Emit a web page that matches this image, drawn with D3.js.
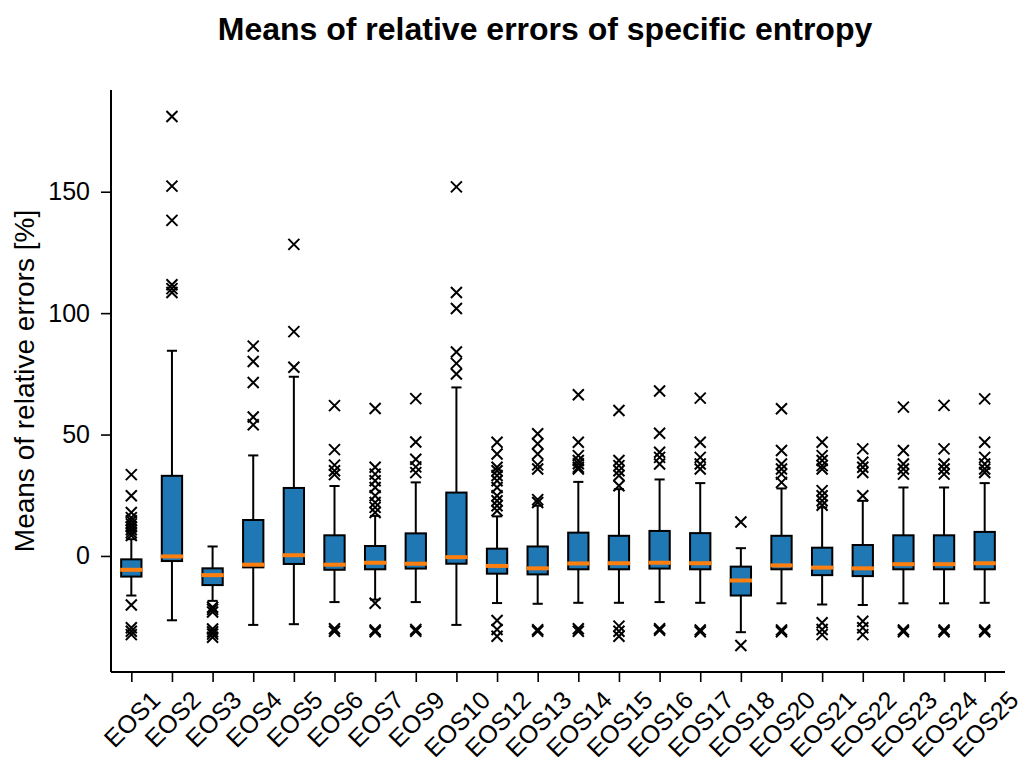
<!DOCTYPE html>
<html>
<head>
<meta charset="utf-8">
<script src="https://cdn.jsdelivr.net/npm/d3@7"></script>
<style>
  html, body { margin: 0; padding: 0; background: #fff; }
  svg { display: block; font-family: "Liberation Sans", Arial, sans-serif; }
</style>
</head>
<body>
<svg id="chart" width="1020" height="767"></svg>
<script>
// Box statistics of the mean relative error (%) per equation of state
const categories = ["EOS1","EOS2","EOS3","EOS4","EOS5","EOS6","EOS7","EOS9","EOS10","EOS12","EOS13",
                    "EOS14","EOS15","EOS16","EOS17","EOS18","EOS20","EOS21","EOS22","EOS23","EOS24","EOS25"];
const whiskerLow  = [-16.3,-26.5,-18.5,-28.4,-28.1,-19.0,-18.0,-19.0,-28.4,-19.4,-19.7,-19.3,-19.3,-19.0,-19.3,-31.4,-19.5,-20.0,-20.2,-19.5,-19.5,-19.3];
const q1          = [-8.5,-2.1,-12.0,-4.7,-3.3,-5.7,-5.5,-5.2,-3.2,-7.3,-7.6,-5.5,-5.5,-5.2,-5.5,-16.3,-5.5,-7.9,-8.3,-5.5,-5.5,-5.5];
const median      = [-5.7,-0.2,-7.9,-3.6,0.3,-3.6,-2.8,-3.2,-0.5,-4.1,-5.1,-3.1,-3.0,-2.8,-3.0,-10.1,-3.9,-4.8,-5.1,-3.4,-3.4,-3.0];
const q3          = [-1.4,33.0,-5.1,14.8,28.0,8.5,4.1,9.3,26.1,3.0,3.9,9.6,8.3,10.3,9.4,-4.4,8.3,3.4,4.5,8.5,8.5,9.9];
const whiskerHigh = [6.9,84.5,3.9,41.4,73.8,28.8,16.5,30.3,69.4,16.3,20.7,30.5,27.5,31.5,30.0,3.2,27.8,20.0,22.7,28.2,28.2,30.0];
const fliers = [
  [33.5,24.8,17.9,15.8,14.5,13.2,12.0,10.8,9.6,8.4,-20.2,-29.6,-31.0,-32.4],
  [181.0,152.3,138.2,111.7,110.1,108.5],
  [-21.1,-22.0,-23.1,-30.1,-31.2,-32.2,-33.5],
  [86.4,80.1,71.4,57.2,54.0],
  [128.3,92.4,77.7],
  [61.9,43.8,37.4,35.1,33.5,-30.0,-31.0],
  [60.7,36.5,33.7,31.0,28.2,24.8,22.0,20.0,17.9,-19.5,-30.5,-31.2],
  [64.8,46.9,39.8,36.7,34.3,-30.3,-31.0],
  [152.0,108.5,101.9,84.0,79.3,74.9],
  [46.8,42.0,36.5,35.1,33.1,31.0,28.2,24.8,22.7,20.7,18.6,-26.6,-30.3,-33.1],
  [50.3,46.2,42.0,37.5,35.8,23.2,22.0,-30.4,-31.0],
  [66.4,46.8,41.3,39.3,38.0,36.5,35.8,-30.0,-31.0],
  [59.9,39.3,37.2,35.1,33.1,28.9,-28.9,-31.0,-33.1],
  [67.9,50.5,42.7,40.6,37.9,-30.0,-30.6],
  [65.0,46.8,40.6,37.9,35.8,-30.5,-31.2],
  [14.0,-36.9],
  [60.6,43.4,37.9,35.8,33.7,30.3,-30.5,-31.2],
  [46.8,41.3,39.3,37.2,35.8,26.9,24.8,22.7,20.9,-27.5,-30.3,-32.4],
  [44.1,38.6,36.5,34.4,24.8,-26.9,-29.6,-32.4],
  [61.3,43.4,37.9,35.8,33.7,-30.5,-31.2],
  [62.0,44.1,37.9,35.8,33.7,-30.5,-31.2],
  [64.7,46.8,40.6,37.9,35.8,34.4,-30.5,-31.2]
];
const yTicks = [0, 50, 100, 150];

const titleText = "Means of relative errors of specific entropy";
const yLabel = "Means of relative errors [%]";

const rows = categories.map((c, i) => ({
  name: c, lo: whiskerLow[i], q1: q1[i], med: median[i], q3: q3[i], hi: whiskerHigh[i], out: fliers[i]
}));

const svg = d3.select("#chart");
const plot = { left: 111, right: 1005, top: 90, bottom: 672 };
const fontFam = "Liberation Sans, Arial, sans-serif";

// y range padded by 5% around the data extent
const allVals = rows.flatMap(r => [r.lo, r.hi, ...r.out]);
const vmin = d3.min(allVals), vmax = d3.max(allVals);
const pad = (vmax - vmin) * 0.05;

const x = d3.scalePoint().domain(categories).range([plot.left, plot.right]).padding(0.5);
const y = d3.scaleLinear().domain([vmin - pad, vmax + pad]).range([plot.bottom, plot.top]);

const step = x.step();
const boxW = step * 0.5;
const capW = boxW * 0.5;

// Title
svg.append("text")
  .attr("x", 545).attr("y", 40)
  .attr("text-anchor", "middle")
  .attr("font-size", 32).attr("font-weight", "bold")
  .text(titleText);

// Y axis label
svg.append("text")
  .attr("transform", `translate(34,${(plot.top + plot.bottom) / 2}) rotate(-90)`)
  .attr("text-anchor", "middle")
  .attr("font-size", 28)
  .text(yLabel);

// Boxes
const g = svg.append("g");
const groups = g.selectAll("g.box").data(rows).join("g").attr("class", "box");

groups.append("line")
  .attr("x1", d => x(d.name)).attr("x2", d => x(d.name))
  .attr("y1", d => y(d.q3)).attr("y2", d => y(d.hi))
  .attr("stroke", "#000").attr("stroke-width", 2);
groups.append("line")
  .attr("x1", d => x(d.name)).attr("x2", d => x(d.name))
  .attr("y1", d => y(d.q1)).attr("y2", d => y(d.lo))
  .attr("stroke", "#000").attr("stroke-width", 2);
groups.append("line")
  .attr("x1", d => x(d.name) - capW / 2).attr("x2", d => x(d.name) + capW / 2)
  .attr("y1", d => y(d.hi)).attr("y2", d => y(d.hi))
  .attr("stroke", "#000").attr("stroke-width", 2);
groups.append("line")
  .attr("x1", d => x(d.name) - capW / 2).attr("x2", d => x(d.name) + capW / 2)
  .attr("y1", d => y(d.lo)).attr("y2", d => y(d.lo))
  .attr("stroke", "#000").attr("stroke-width", 2);
groups.append("rect")
  .attr("x", d => x(d.name) - boxW / 2).attr("width", boxW)
  .attr("y", d => y(d.q3)).attr("height", d => y(d.q1) - y(d.q3))
  .attr("fill", "#1f77b4").attr("stroke", "#000").attr("stroke-width", 2);
groups.append("line")
  .attr("x1", d => x(d.name) - boxW / 2 - 1).attr("x2", d => x(d.name) + boxW / 2 + 1)
  .attr("y1", d => y(d.med)).attr("y2", d => y(d.med))
  .attr("stroke", "#ff7f0e").attr("stroke-width", 4);

// Outliers drawn as x markers
const xMark = "M-5.5,-5.5L5.5,5.5M-5.5,5.5L5.5,-5.5";
groups.selectAll("path.flier")
  .data(d => d.out.map(v => ({ name: d.name, v })))
  .join("path").attr("class", "flier")
  .attr("d", xMark)
  .attr("transform", d => `translate(${x(d.name)},${y(d.v)})`)
  .attr("fill", "none").attr("stroke", "#000").attr("stroke-width", 2);

// Axes
const yAxis = svg.append("g")
  .attr("transform", `translate(${plot.left},0)`)
  .call(d3.axisLeft(y).tickValues(yTicks).tickSize(10).tickPadding(11).tickSizeOuter(0));
yAxis.select(".domain").attr("d", `M0,${plot.top}V${plot.bottom}`).attr("stroke-width", 2);
yAxis.selectAll(".tick line").attr("stroke-width", 1.6);
yAxis.selectAll(".tick text").attr("font-size", 25).attr("font-family", fontFam).attr("fill", "#000");

const xAxis = svg.append("g")
  .attr("transform", `translate(0,${plot.bottom})`)
  .call(d3.axisBottom(x).tickSize(10).tickSizeOuter(0));
xAxis.select(".domain").attr("d", `M${plot.left},0H${plot.right}`).attr("stroke-width", 2);
xAxis.selectAll(".tick line").attr("stroke-width", 1.6);
xAxis.selectAll(".tick text")
  .attr("font-size", 25).attr("font-family", fontFam).attr("fill", "#000")
  .attr("text-anchor", "middle").attr("dy", null)
  .attr("dominant-baseline", "central")
  .each(function () {
    const w = this.getComputedTextLength();
    const h = 18;
    const half = (w + h) / (2 * Math.SQRT2);
    d3.select(this).attr("y", null)
      .attr("transform", `translate(0,${17 + half}) rotate(-45)`);
  });
</script>
</body>
</html>
